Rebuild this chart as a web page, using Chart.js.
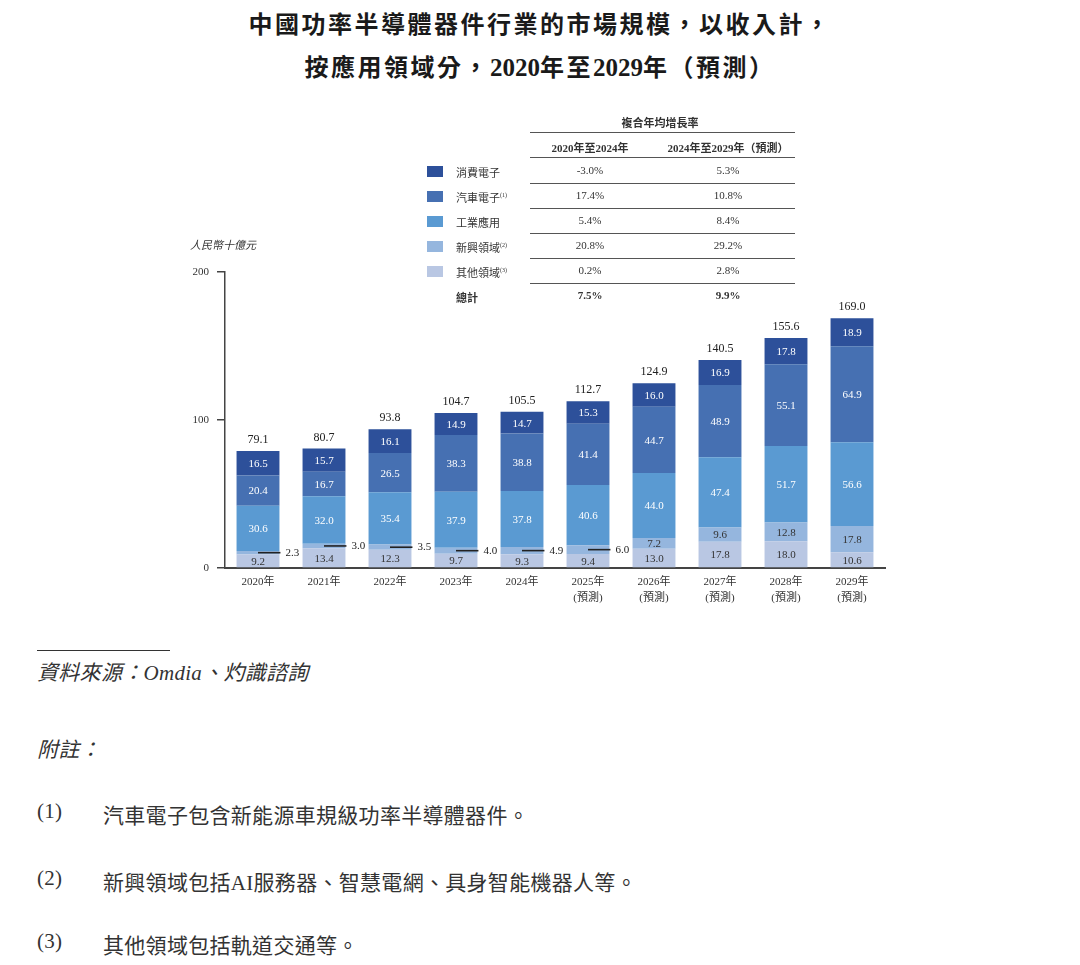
<!DOCTYPE html>
<html>
<head>
<meta charset="utf-8">
<script src="https://cdn.jsdelivr.net/npm/chart.js@4.4.1/dist/chart.umd.min.js"></script>
<style>
  body { margin: 0; background: #fff; width: 1080px; height: 965px; position: relative; overflow: hidden;
         font-family: 'Liberation Serif', 'Noto Sans CJK TC', serif; color: #222; }
  #wrap { position: absolute; left: 0; top: 0; width: 1080px; height: 620px; }
  .abs { position: absolute; white-space: nowrap; }
  .title { left: 0; width: 1080px; text-align: center; font-size: 24px; font-weight: bold; color: #1a1a1a; letter-spacing: 2.5px; }
  .num { letter-spacing: 0; font-size: 25px; }
  .t { font-size: 11px; color: #333; }
  .hl { position: absolute; left: 530px; width: 265px; height: 0; border-top: 1.5px solid #555; }
  .sw { position: absolute; width: 16px; height: 11px; }
  .foot { font-size: 21px; color: #333; letter-spacing: 0.3px; }
</style>
</head>
<body>
<div class="abs title" style="top:5px;">中國功率半導體器件行業的市場規模，以收入計，</div>
<div class="abs title" style="top:48px;">按應用領域分，<span class="num">2020</span>年至<span class="num">2029</span>年（預測）</div>

<div id="wrap"><canvas id="myChart" width="1080" height="620"></canvas></div>
<div id="legend"></div>
<div class="abs t" style="left:190px; top:236px; font-style:italic;">人民幣十億元</div>

<div class="abs" style="left:37px; top:650px; width:133px; border-top:1.5px solid #333;"></div>
<div class="abs foot" style="left:37px; top:656px; font-style:italic;">資料來源：Omdia、灼識諮詢</div>
<div class="abs foot" style="left:37px; top:733px; font-style:italic;">附註：</div>
<div class="abs foot" style="left:37px; top:799px;">(1)</div>
<div class="abs foot" style="left:103px; top:799px;">汽車電子包含新能源車規級功率半導體器件。</div>
<div class="abs foot" style="left:37px; top:866px;">(2)</div>
<div class="abs foot" style="left:103px; top:866px;">新興領域包括AI服務器、智慧電網、具身智能機器人等。</div>
<div class="abs foot" style="left:37px; top:929px;">(3)</div>
<div class="abs foot" style="left:103px; top:929px;">其他領域包括軌道交通等。</div>

<script>
var years = [["2020年"], ["2021年"], ["2022年"], ["2023年"], ["2024年"],
             ["2025年", "(預測)"], ["2026年", "(預測)"], ["2027年", "(預測)"], ["2028年", "(預測)"], ["2029年", "(預測)"]];

// 由下至上
var otherVals    = [9.2, 13.4, 12.3, 9.7, 9.3, 9.4, 13.0, 17.8, 18.0, 10.6];
var emergingVals = [2.3, 3.0, 3.5, 4.0, 4.9, 6.0, 7.2, 9.6, 12.8, 17.8];
var industryVals = [30.6, 32.0, 35.4, 37.9, 37.8, 40.6, 44.0, 47.4, 51.7, 56.6];
var autoVals     = [20.4, 16.7, 26.5, 38.3, 38.8, 41.4, 44.7, 48.9, 55.1, 64.9];
var consumerVals = [16.5, 15.7, 16.1, 14.9, 14.7, 15.3, 16.0, 16.9, 17.8, 18.9];
var totals       = [79.1, 80.7, 93.8, 104.7, 105.5, 112.7, 124.9, 140.5, 155.6, 169.0];

var yTicks = [0, 100, 200];

// 複合年均增長率 表 (由上至下)
var legendNames = ["消費電子", "汽車電子", "工業應用", "新興領域", "其他領域"];
var legendSup   = ["", "(1)", "", "(2)", "(3)"];
var cagr2024    = ["-3.0%", "17.4%", "5.4%", "20.8%", "0.2%"];
var cagr2029    = ["5.3%", "10.8%", "8.4%", "29.2%", "2.8%"];
var totalCagr   = ["7.5%", "9.9%"];

var colors = ["#2d509a", "#4670b2", "#5a9ad2", "#95b6de", "#b9c7e3"];
var labelColors = ["#fff", "#fff", "#fff", "#333", "#333"];

var serif = "'Liberation Serif', 'Noto Sans CJK TC', serif";

// 表格
var lg = document.getElementById("legend");
function add(html, style, cls) {
  var d = document.createElement("div");
  d.className = cls || "abs t";
  d.setAttribute("style", style);
  d.innerHTML = html;
  lg.appendChild(d);
}
add("複合年均增長率", "left:560px; width:200px; text-align:center; top:114px; font-weight:bold;");
add("", "top:132px;", "hl");
add("2020年至2024年", "left:520px; width:140px; text-align:center; top:139px; font-weight:bold;");
add("2024年至2029年（預測）", "left:648px; width:160px; text-align:center; top:139px; font-weight:bold;");
add("", "top:157px;", "hl");
for (var i = 0; i < legendNames.length; i++) {
  var y = 171 + i * 25;
  add("", "left:427px; top:" + (y - 5) + "px; background:" + colors[i] + ";", "sw");
  add(legendNames[i] + (legendSup[i] ? "<sup style='font-size:6px'>" + legendSup[i] + "</sup>" : ""),
      "left:456px; top:" + (y - 7) + "px;");
  add(cagr2024[i], "left:540px; width:100px; text-align:center; top:" + (y - 7) + "px;");
  add(cagr2029[i], "left:678px; width:100px; text-align:center; top:" + (y - 7) + "px;");
  add("", "top:" + (y + 12) + "px;", "hl");
}
add("總計", "left:456px; top:289px; font-weight:bold;");
add(totalCagr[0], "left:540px; width:100px; text-align:center; top:289px; font-weight:bold;");
add(totalCagr[1], "left:678px; width:100px; text-align:center; top:289px; font-weight:bold;");

var seriesVals = [otherVals, emergingVals, industryVals, autoVals, consumerVals];
var seriesNames = ["其他領域", "新興領域", "工業應用", "汽車電子", "消費電子"];
var datasets = seriesVals.map(function (vals, k) {
  var idx = 4 - k;
  return {
    label: seriesNames[k],
    data: vals,
    backgroundColor: colors[idx],
    labelColor: labelColors[idx],
    borderWidth: 0,
    barPercentage: 0.65,
    categoryPercentage: 1.0
  };
});

var labelPlugin = {
  id: "segLabels",
  afterDatasetsDraw: function (chart) {
    var ctx = chart.ctx;
    ctx.save();
    ctx.font = "11px " + serif;
    ctx.textBaseline = "middle";
    chart.data.datasets.forEach(function (ds, i) {
      chart.getDatasetMeta(i).data.forEach(function (bar, j) {
        var v = ds.data[j];
        var h = bar.base - bar.y;
        var yMid = (bar.y + bar.base) / 2;
        if (h < 10) {
          var right = bar.x + bar.width / 2;
          ctx.strokeStyle = "#222";
          ctx.lineWidth = 1.6;
          ctx.beginPath();
          ctx.moveTo(bar.x, yMid);
          ctx.lineTo(right + 1, yMid);
          ctx.stroke();
          ctx.fillStyle = "#222";
          ctx.textAlign = "left";
          ctx.fillText(v.toFixed(1), right + 6, yMid);
        } else {
          ctx.fillStyle = ds.labelColor;
          ctx.textAlign = "center";
          ctx.fillText(v.toFixed(1), bar.x, yMid + 1);
        }
      });
    });
    var topMeta = chart.getDatasetMeta(chart.data.datasets.length - 1);
    ctx.font = "12px " + serif;
    ctx.fillStyle = "#222";
    ctx.textAlign = "center";
    ctx.textBaseline = "bottom";
    topMeta.data.forEach(function (bar, j) {
      ctx.fillText(totals[j].toFixed(1), bar.x, bar.y - 5);
    });
    ctx.restore();
  }
};

new Chart("myChart", {
  type: "bar",
  data: { labels: years, datasets: datasets },
  plugins: [labelPlugin],
  options: {
    responsive: false,
    animation: false,
    layout: { padding: { left: 180, right: 195, top: 272, bottom: 12 } },
    plugins: { legend: { display: false }, tooltip: { enabled: false } },
    scales: {
      x: {
        stacked: true,
        grid: { display: false, drawTicks: false },
        border: { display: true, color: "#444", width: 2 },
        ticks: { color: "#333", padding: 6, font: { family: serif, size: 11, lineHeight: 1.45 } },
        afterFit: function (s) { s.height = 40; }
      },
      y: {
        stacked: true,
        min: 0,
        max: 200,
        afterBuildTicks: function (s) { s.ticks = yTicks.map(function (v) { return { value: v }; }); },
        grid: { drawOnChartArea: false, drawTicks: true, tickLength: 8, color: "#444", lineWidth: 1.5 },
        border: { display: true, color: "#444", width: 1.5 },
        ticks: { color: "#333", padding: 8, font: { family: serif, size: 11 } },
        afterFit: function (s) { s.width = 45; }
      }
    }
  }
});
</script>
</body>
</html>
